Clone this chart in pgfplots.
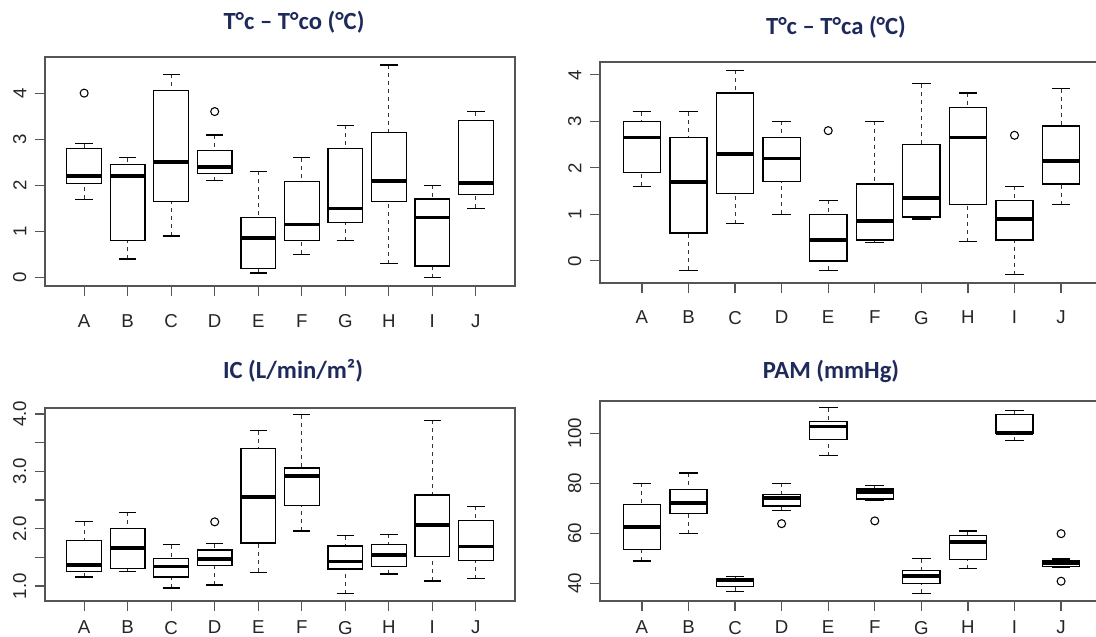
\documentclass[border=0pt]{standalone}
\usepackage{pgfplots}
\pgfplotsset{compat=1.18}
\usepgfplotslibrary{statistics}
\usepackage{fontspec}
\setmainfont{Liberation Sans}
\newfontfamily\titlefont{Carlito}
\definecolor{titleblue}{HTML}{1F2A5C}
\definecolor{axgray}{HTML}{555555}

\pgfplotsset{
  rbox/.style={
    scale only axis, anchor=south west,
    xmin=0.1, xmax=10.9,
    xtick={1,...,10}, xticklabels={A,B,C,D,E,F,G,H,I,J},
    tick align=outside, tick pos=left, major tick length=7.5pt,
    axis line style={draw=axgray, line width=1pt},
    every tick/.style={axgray, line width=0.9pt},
    ticklabel style={font=\fontsize{14}{15}\selectfont, text=black!85},
    yticklabel style={xshift=-3pt, rotate=90, anchor=south},
    xticklabel style={anchor=north, yshift=#1},
    /pgf/number format/assume math mode=true,
    boxplot/draw direction=y,
    boxplot/box extend=0.8, boxplot/whisker extend=0.4,
    boxplot/every box/.style={draw=black, line width=1pt, fill=none},
    boxplot/every median/.style={draw=black, line width=2.8pt},
    boxplot/draw/lower whisker/.code={%
      \draw[black!80, line width=0.75pt, dash pattern=on 3pt off 3pt]
        (boxplot cs:\pgfplotsboxplotvalue{lower whisker}) --
        (boxplot cs:\pgfplotsboxplotvalue{lower quartile});
      \draw[black, line width=0.9pt]
        (boxplot whisker cs:\pgfplotsboxplotvalue{lower whisker},0) --
        (boxplot whisker cs:\pgfplotsboxplotvalue{lower whisker},1);
    },
    boxplot/draw/upper whisker/.code={%
      \draw[black!80, line width=0.75pt, dash pattern=on 3pt off 3pt]
        (boxplot cs:\pgfplotsboxplotvalue{upper whisker}) --
        (boxplot cs:\pgfplotsboxplotvalue{upper quartile});
      \draw[black, line width=0.9pt]
        (boxplot whisker cs:\pgfplotsboxplotvalue{upper whisker},0) --
        (boxplot whisker cs:\pgfplotsboxplotvalue{upper whisker},1);
    },
  },
  rb/.style={black, solid, mark=o, mark size=3pt,
    mark options={solid, line width=0.8pt}, boxplot prepared={#1}},
}
\newcommand{\ttl}[1]{\titlefont\bfseries\fontsize{18.5}{20}\selectfont\color{titleblue}#1}

\begin{document}
\begin{tikzpicture}
\useasboundingbox (0,0) rectangle (822pt,477pt);
\clip (0,0) rectangle (822pt,477pt);
\fill[white] (0,0) rectangle (822pt,477pt);

% ---------- Panel 1 ----------
\begin{axis}[rbox={-10.5pt}, at={(33.75pt,262.5pt)}, width=352.5pt, height=171.75pt,
  ymin=-0.184, ymax=4.784, ytick={0,1,2,3,4}]
\addplot[rb={draw position=1, lower whisker=1.70, lower quartile=2.04, median=2.20, upper quartile=2.80, upper whisker=2.90}] coordinates {(0,4.0)};
\addplot[rb={draw position=2, lower whisker=0.40, lower quartile=0.80, median=2.20, upper quartile=2.45, upper whisker=2.60}] coordinates {};
\addplot[rb={draw position=3, lower whisker=0.90, lower quartile=1.645, median=2.50, upper quartile=4.05, upper whisker=4.41}] coordinates {};
\addplot[rb={draw position=4, lower whisker=2.10, lower quartile=2.25, median=2.40, upper quartile=2.75, upper whisker=3.09}] coordinates {(0,3.6)};
\addplot[rb={draw position=5, lower whisker=0.10, lower quartile=0.20, median=0.85, upper quartile=1.30, upper whisker=2.30}] coordinates {};
\addplot[rb={draw position=6, lower whisker=0.50, lower quartile=0.80, median=1.15, upper quartile=2.09, upper whisker=2.60}] coordinates {};
\addplot[rb={draw position=7, lower whisker=0.80, lower quartile=1.20, median=1.50, upper quartile=2.80, upper whisker=3.30}] coordinates {};
\addplot[rb={draw position=8, lower whisker=0.30, lower quartile=1.645, median=2.10, upper quartile=3.145, upper whisker=4.61}] coordinates {};
\addplot[rb={draw position=9, lower whisker=0.00, lower quartile=0.25, median=1.30, upper quartile=1.70, upper whisker=2.00}] coordinates {};
\addplot[rb={draw position=10, lower whisker=1.50, lower quartile=1.80, median=2.05, upper quartile=3.40, upper whisker=3.60}] coordinates {};
\end{axis}

% ---------- Panel 2 ----------
\begin{axis}[rbox={-10pt}, at={(450pt,264.75pt)}, width=377.25pt, height=165.75pt,
  ymin=-0.476, ymax=4.276, ytick={0,1,2,3,4}]
\addplot[rb={draw position=1, lower whisker=1.60, lower quartile=1.90, median=2.65, upper quartile=3.00, upper whisker=3.21}] coordinates {};
\addplot[rb={draw position=2, lower whisker=-0.20, lower quartile=0.60, median=1.70, upper quartile=2.65, upper whisker=3.21}] coordinates {};
\addplot[rb={draw position=3, lower whisker=0.80, lower quartile=1.445, median=2.30, upper quartile=3.61, upper whisker=4.10}] coordinates {};
\addplot[rb={draw position=4, lower whisker=1.00, lower quartile=1.70, median=2.20, upper quartile=2.65, upper whisker=3.00}] coordinates {};
\addplot[rb={draw position=5, lower whisker=-0.20, lower quartile=0.00, median=0.45, upper quartile=1.00, upper whisker=1.30}] coordinates {(0,2.8)};
\addplot[rb={draw position=6, lower whisker=0.40, lower quartile=0.45, median=0.85, upper quartile=1.65, upper whisker=3.00}] coordinates {};
\addplot[rb={draw position=7, lower whisker=0.90, lower quartile=0.94, median=1.35, upper quartile=2.50, upper whisker=3.81}] coordinates {};
\addplot[rb={draw position=8, lower whisker=0.41, lower quartile=1.21, median=2.65, upper quartile=3.30, upper whisker=3.61}] coordinates {};
\addplot[rb={draw position=9, lower whisker=-0.30, lower quartile=0.45, median=0.90, upper quartile=1.30, upper whisker=1.60}] coordinates {(0,2.7)};
\addplot[rb={draw position=10, lower whisker=1.21, lower quartile=1.65, median=2.15, upper quartile=2.90, upper whisker=3.70}] coordinates {};
\end{axis}

% ---------- Panel 3 ----------
\begin{axis}[rbox={-4pt}, at={(33.75pt,26.25pt)}, width=352.5pt, height=144.75pt,
  ymin=0.74, ymax=4.105, ytick={1,1.5,2,2.5,3,3.5,4},
  yticklabels={1.0,,2.0,,3.0,,4.0}]
\addplot[rb={draw position=1, lower whisker=1.16, lower quartile=1.26, median=1.37, upper quartile=1.79, upper whisker=2.12}] coordinates {};
\addplot[rb={draw position=2, lower whisker=1.26, lower quartile=1.31, median=1.66, upper quartile=2.00, upper whisker=2.29}] coordinates {};
\addplot[rb={draw position=3, lower whisker=0.965, lower quartile=1.16, median=1.34, upper quartile=1.48, upper whisker=1.72}] coordinates {};
\addplot[rb={draw position=4, lower whisker=1.02, lower quartile=1.36, median=1.47, upper quartile=1.63, upper whisker=1.74}] coordinates {(0,2.12)};
\addplot[rb={draw position=5, lower whisker=1.24, lower quartile=1.75, median=2.55, upper quartile=3.40, upper whisker=3.71}] coordinates {};
\addplot[rb={draw position=6, lower whisker=1.96, lower quartile=2.41, median=2.92, upper quartile=3.06, upper whisker=3.99}] coordinates {};
\addplot[rb={draw position=7, lower whisker=0.87, lower quartile=1.30, median=1.43, upper quartile=1.70, upper whisker=1.88}] coordinates {};
\addplot[rb={draw position=8, lower whisker=1.21, lower quartile=1.34, median=1.54, upper quartile=1.72, upper whisker=1.90}] coordinates {};
\addplot[rb={draw position=9, lower whisker=1.09, lower quartile=1.52, median=2.06, upper quartile=2.59, upper whisker=3.89}] coordinates {};
\addplot[rb={draw position=10, lower whisker=1.13, lower quartile=1.45, median=1.69, upper quartile=2.14, upper whisker=2.39}] coordinates {};
\end{axis}

% ---------- Panel 4 ----------
\begin{axis}[rbox={-4pt}, at={(450pt,26.25pt)}, width=377.25pt, height=150pt,
  ymin=33.0, ymax=112.9, ytick={40,60,80,100}]
\addplot[rb={draw position=1, lower whisker=49.0, lower quartile=53.5, median=62.6, upper quartile=71.5, upper whisker=80.1}] coordinates {};
\addplot[rb={draw position=2, lower whisker=59.9, lower quartile=67.9, median=72.2, upper quartile=77.6, upper whisker=84.1}] coordinates {};
\addplot[rb={draw position=3, lower whisker=36.9, lower quartile=38.8, median=41.5, upper quartile=42.0, upper whisker=42.9}] coordinates {};
\addplot[rb={draw position=4, lower whisker=69.1, lower quartile=71.0, median=74.1, upper quartile=75.6, upper whisker=80.1}] coordinates {(0,63.9)};
\addplot[rb={draw position=5, lower whisker=91.1, lower quartile=97.6, median=102.7, upper quartile=104.7, upper whisker=110.2}] coordinates {};
\addplot[rb={draw position=6, lower whisker=73.2, lower quartile=73.7, median=76.6, upper quartile=77.7, upper whisker=79.0}] coordinates {(0,65.0)};
\addplot[rb={draw position=7, lower whisker=36.1, lower quartile=39.9, median=42.9, upper quartile=45.1, upper whisker=49.9}] coordinates {};
\addplot[rb={draw position=8, lower whisker=45.9, lower quartile=49.5, median=56.6, upper quartile=59.1, upper whisker=61.0}] coordinates {};
\addplot[rb={draw position=9, lower whisker=97.1, lower quartile=100.0, median=100.0, upper quartile=107.6, upper whisker=109.1}] coordinates {};
\addplot[rb={draw position=10, lower whisker=46.3, lower quartile=46.8, median=48.2, upper quartile=49.2, upper whisker=49.8}] coordinates {(0,59.9) (0,40.9)};
\end{axis}

% ---------- Titles ----------
\node at (220.5pt,460.5pt) {\ttl{T°c – T°co (°C)}};
\node at (627pt,456.75pt) {\ttl{T°c – T°ca (°C)}};
\node at (219.75pt,198.75pt) {\ttl{IC (L/min/m²)}};
\node at (623.25pt,198.75pt) {\ttl{PAM (mmHg)}};
\end{tikzpicture}
\end{document}
